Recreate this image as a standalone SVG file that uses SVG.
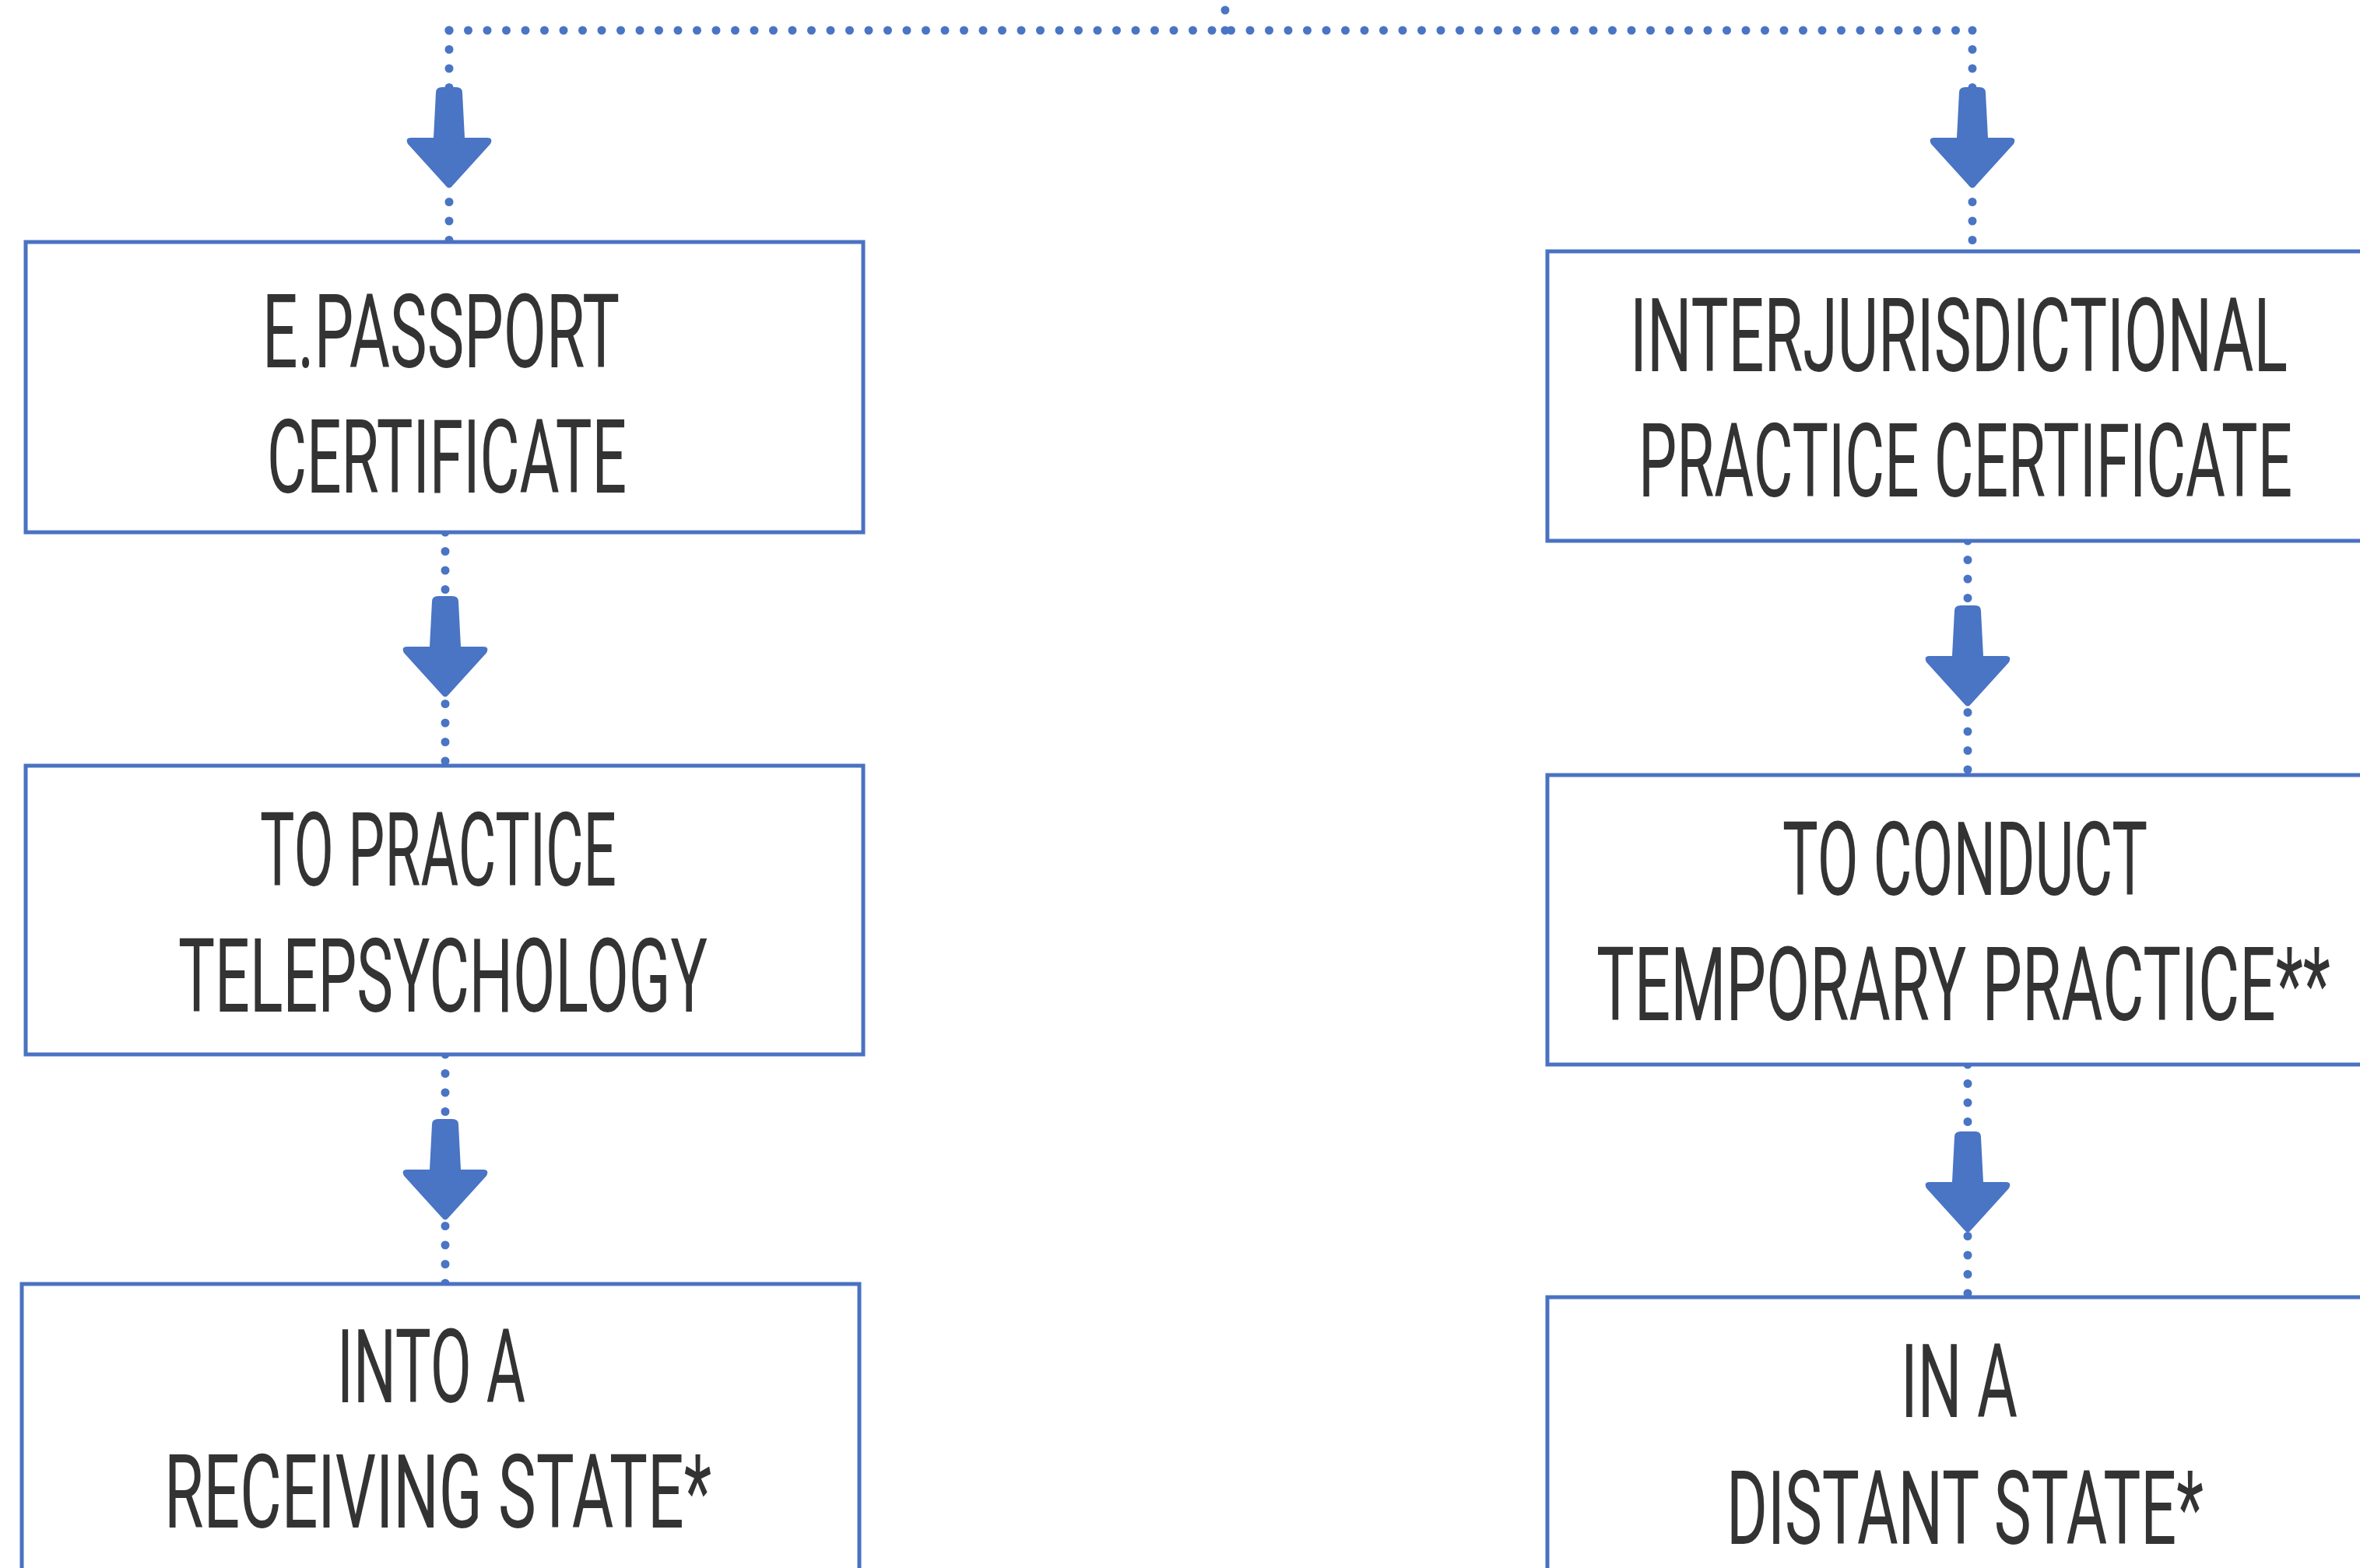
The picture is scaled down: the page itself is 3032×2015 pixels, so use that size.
<svg xmlns="http://www.w3.org/2000/svg" xmlns:xlink="http://www.w3.org/1999/xlink" width="3032" height="2015" viewBox="0 0 3032 2015">
<style>
.box{fill:#ffffff;stroke:#4a72c2;stroke-width:5}
.lbl{font-family:"Roboto","Liberation Sans",Arial,sans-serif;font-size:131px;fill:#333333}
.dot{fill:none;stroke:#4a74c4;stroke-width:11;stroke-linecap:round;stroke-dasharray:0 24.5}
.arr{fill:#4a74c4}
</style>
<defs>
<path id="arrow" d="M -17,-124 Q -17,-131 -9,-131 L 9,-131 Q 17,-131 17,-124 L 20,-66 L 49,-66 Q 57,-66 53,-58 L 4,-4 Q 0,1 -4,-4 L -53,-58 Q -57,-66 -49,-66 L -20,-66 Z"/>
</defs>
<rect width="3032" height="2015" fill="#ffffff"/>
<g id="connectors">
<path class="dot" d="M1574,39 V-20" style="stroke-dasharray:0 26"/>
<path class="dot" d="M577,39 H2534"/>
<path class="dot" d="M577,39 V311"/>
<path class="dot" d="M2534,39 V323"/>
<path class="dot" d="M572,684 V984"/>
<path class="dot" d="M572,1355 V1650"/>
<path class="dot" d="M2528,695 V996"/>
<path class="dot" d="M2528,1368 V1667"/>
<use class="arr" xlink:href="#arrow" href="#arrow" x="577" y="243"/>
<use class="arr" xlink:href="#arrow" href="#arrow" x="2534" y="243"/>
<use class="arr" xlink:href="#arrow" href="#arrow" x="572" y="897"/>
<use class="arr" xlink:href="#arrow" href="#arrow" x="572" y="1569"/>
<use class="arr" xlink:href="#arrow" href="#arrow" x="2528" y="909"/>
<use class="arr" xlink:href="#arrow" href="#arrow" x="2528" y="1585"/>
</g>
<g id="node-epassport">
<rect class="box" x="33" y="311" width="1076" height="373"/>
<text class="lbl" x="337" y="472" textLength="459" lengthAdjust="spacingAndGlyphs">E.PASSPORT</text>
<text class="lbl" x="343" y="633" textLength="462" lengthAdjust="spacingAndGlyphs">CERTIFICATE</text>
</g>
<g id="node-telepsychology">
<rect class="box" x="33" y="984" width="1076" height="371"/>
<text class="lbl" x="334" y="1138" textLength="458" lengthAdjust="spacingAndGlyphs">TO PRACTICE</text>
<text class="lbl" x="229" y="1300" textLength="680" lengthAdjust="spacingAndGlyphs">TELEPSYCHOLOGY</text>
</g>
<g id="node-receiving">
<rect class="box" x="28" y="1650" width="1076" height="420"/>
<text class="lbl" x="433" y="1802" textLength="242" lengthAdjust="spacingAndGlyphs">INTO A</text>
<text class="lbl" x="211" y="1963" textLength="703" lengthAdjust="spacingAndGlyphs">RECEIVING STATE*</text>
</g>
<g id="node-ipc">
<rect class="box" x="1988" y="323" width="1100" height="372"/>
<text class="lbl" x="2094" y="477" textLength="845" lengthAdjust="spacingAndGlyphs">INTERJURISDICTIONAL</text>
<text class="lbl" x="2105" y="638" textLength="840" lengthAdjust="spacingAndGlyphs">PRACTICE CERTIFICATE</text>
</g>
<g id="node-temporary">
<rect class="box" x="1988" y="996" width="1100" height="372"/>
<text class="lbl" x="2290" y="1150" textLength="469" lengthAdjust="spacingAndGlyphs">TO CONDUCT</text>
<text class="lbl" x="2051" y="1311" textLength="943" lengthAdjust="spacingAndGlyphs">TEMPORARY PRACTICE**</text>
</g>
<g id="node-distant">
<rect class="box" x="1988" y="1667" width="1100" height="420"/>
<text class="lbl" x="2442" y="1821" textLength="150" lengthAdjust="spacingAndGlyphs">IN A</text>
<text class="lbl" x="2218" y="1984" textLength="613" lengthAdjust="spacingAndGlyphs">DISTANT STATE*</text>
</g>
</svg>
